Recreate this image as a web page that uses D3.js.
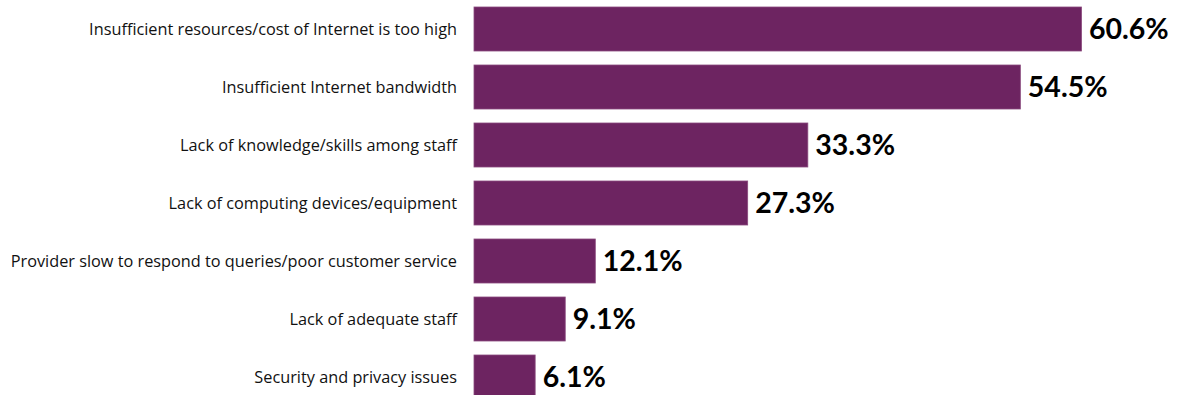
<!DOCTYPE html>
<html>
<head>
<meta charset="utf-8">
<script src="https://cdn.jsdelivr.net/npm/d3@7"></script>
<style>
  html, body { margin: 0; padding: 0; background: #fff; }
  svg { display: block; }
</style>
</head>
<body>
<svg id="chart" width="1177" height="395"></svg>
<script>
// Barriers to Internet use, share of respondents (%)
const categories = [
  "Insufficient resources/cost of Internet is too high",
  "Insufficient Internet bandwidth",
  "Lack of knowledge/skills among staff",
  "Lack of computing devices/equipment",
  "Provider slow to respond to queries/poor customer service",
  "Lack of adequate staff",
  "Security and privacy issues"
];
const values = [60.6, 54.5, 33.3, 27.3, 12.1, 9.1, 6.1];

const svg = d3.select("#chart");
const barLeft = 474;
const labelRight = 457;

const x = d3.scaleLinear().domain([0, 60.6]).range([barLeft, 1081.5]);
const y = d3.scaleBand()
  .domain(categories)
  .range([0, 406])
  .paddingInner(14 / 58)
  .paddingOuter(7 / 58);

const rows = svg.selectAll("g.row")
  .data(categories.map((c, i) => ({ c, v: values[i] })))
  .join("g")
  .attr("class", "row");

rows.append("rect")
  .attr("x", x(0))
  .attr("y", d => y(d.c))
  .attr("width", d => x(d.v) - x(0))
  .attr("height", y.bandwidth())
  .attr("fill", "#6d2461")
  .attr("stroke", "#8a4a7e")
  .attr("stroke-width", 0.8);

rows.append("text")
  .attr("x", labelRight)
  .attr("y", d => y(d.c) + y.bandwidth() / 2)
  .attr("dy", "0.36em")
  .attr("text-anchor", "end")
  .attr("font-family", "'Open Sans', sans-serif")
  .attr("font-size", 16.3)
  .attr("fill", "#111")
  .text(d => d.c);

rows.append("text")
  .attr("x", d => x(d.v) + 7.5)
  .attr("y", d => y(d.c) + y.bandwidth() / 2)
  .attr("dy", "0.36em")
  .attr("font-family", "Lato, 'Open Sans', sans-serif")
  .attr("font-weight", "bold")
  .attr("font-size", 28.5)
  .attr("fill", "#000")
  .text(d => d.v.toFixed(1) + "%");
</script>
</body>
</html>
